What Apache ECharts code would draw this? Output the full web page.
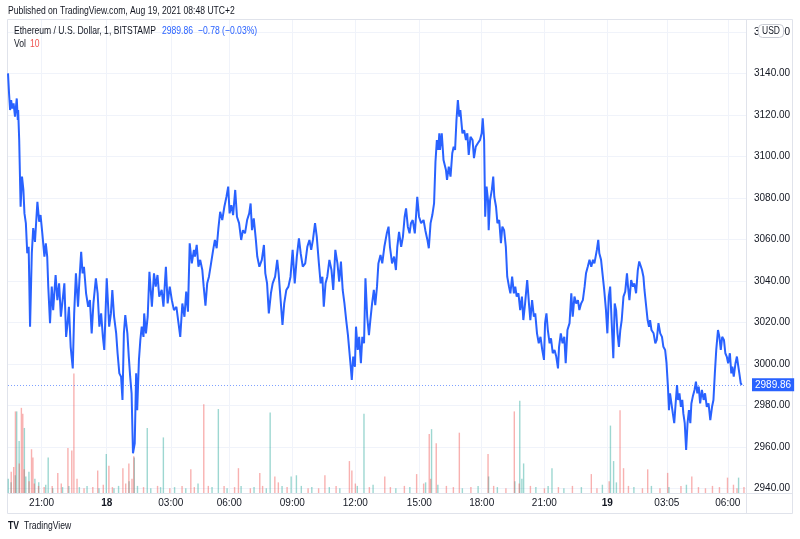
<!DOCTYPE html>
<html>
<head>
<meta charset="utf-8">
<script src="https://cdn.jsdelivr.net/npm/echarts@6/dist/echarts.min.js"></script>
<style>
html,body{margin:0;padding:0;background:#fff;}
#chart{width:800px;height:539px;}
</style>
</head>
<body>
<div id="chart"></div>
<script>
// ---- data (bar index = minute bar since chart start) ----
var barIdx = [0,3,6,9,12,16,20,25,28,29,32,36,40,44,47,51,55,59,63,68,72,77,84,89,93,98,104,108,112,115,120,125,129,136,141,146,151,156,161,166,171,174,179,185,189,194,200,204,209,213,217,223,229,234,239,244,251,256,261,266,271,275,282,289,294,298,303,309,313,318,323,327,331,335,341,345,349,353,357,362,366,369,374,378,382,387,389,394,399,404,411,417,422,427,432,439,444,451,456,462,468,474,481,487,492,498,504,509,514,519,525,531,534,539,544,549,555,559,564,569,574,580,586,591,596,601,606,612,618,624,629,633,638,643,649,654,660,666,671,677,683,689,693,697,702,708,712,718,725,731,735,740,745,751,756,763,769,773,778,784,789,795,801,807,813,819,825,831,836,842,849,855,861,866,871,877,882,888,893,898,902,907,912,918,924,929,935,941,946,951,956,961,966,971,975,979,982,986,991,994,999,1003,1008,1012,1017,1021,1026,1031,1035,1040,1045,1049,1054,1058,1064,1069,1075,1082,1087,1091,1097,1103,1108,1112,1117,1123,1128,1133,1137,1142,1147,1151,1156,1162,1166,1169,1174,1180,1187,1192,1198,1202,1207,1212,1217,1221,1225,1229,1232,1234,1239,1244,1251,1254,1259,1264,1269,1273,1277,1281,1285,1289,1292,1298,1303,1308,1312,1316,1321,1327,1331,1336,1342,1348,1353,1356,1360,1363,1367,1371,1373,1377,1382,1386,1389,1394,1398,1403,1408,1412,1417,1422,1426,1431,1435,1440,1445,1449,1453,1458,1463,1468,1472,1477,1483,1488,1492,1497,1502,1506,1511,1516,1521,1526,1531,1534,1538,1542,1547,1551,1556,1561,1566,1571,1574,1579,1584,1589,1593,1598,1604,1609,1613,1618,1623,1628,1632,1637,1642,1647,1651,1656,1661,1666,1671,1675,1682,1686,1689,1694,1699,1703,1708,1712,1716,1720,1724,1729,1733,1737,1741,1745,1749,1753,1758,1763,1768,1771,1775,1780,1785,1789,1794,1799,1803,1808,1811,1815,1818,1823,1827,1831,1834,1838,1844,1849,1853,1858,1863,1868,1872,1877,1881,1885,1888,1891,1895,1899,1903,1907,1911,1914,1918,1922,1926,1929,1933,1937,1941,1945,1949,1952,1956,1961,1965,1969,1973,1977,1982,1987,1991,1996,2001,2006,2011,2015,2019,2023,2028,2032,2036,2040,2045,2049,2053,2057,2062,2066,2069,2073,2078,2082,2086,2089,2093,2096];
var closePrice = [3140.0,3130.3,3122.3,3127.1,3123.1,3125.5,3119.1,3127.9,3117.5,3122.3,3107.8,3075.7,3090.2,3083.8,3072.5,3067.8,3053.3,3056.4,3017.9,3053.3,3065.4,3058.8,3078.1,3068.5,3071.7,3062.9,3051.7,3058.1,3051.7,3037.2,3019.6,3037.2,3025.9,3042.8,3030.7,3038.8,3022.7,3030.7,3038.8,3013.0,3021.1,3027.5,3008.2,2997.8,3024.3,3043.6,3027.5,3040.4,3054.0,3043.6,3046.8,3034.0,3027.5,3030.7,3014.7,3029.1,3041.2,3034.0,3017.9,3024.3,3013.0,3006.7,3041.2,3017.9,3024.3,3035.6,3022.7,3014.7,3005.1,2995.4,2993.8,2982.6,3014.7,3023.5,3014.7,3003.5,2993.8,2985.8,2956.9,2961.7,2995.4,2977.7,3001.9,3011.5,3017.9,3013.0,3024.3,3014.7,3022.7,3044.4,3027.5,3043.6,3037.2,3042.8,3032.4,3035.6,3027.5,3046.8,3029.1,3037.2,3030.7,3025.9,3027.5,3019.6,3013.0,3029.1,3022.7,3034.8,3025.1,3058.1,3048.4,3054.9,3051.7,3057.3,3046.8,3050.1,3045.2,3037.2,3028.0,3038.8,3042.0,3048.4,3054.9,3059.7,3055.7,3065.4,3073.3,3069.3,3075.7,3080.5,3085.4,3072.5,3076.5,3071.7,3083.8,3070.9,3067.8,3059.7,3064.4,3062.9,3069.3,3072.5,3077.3,3064.4,3070.1,3059.7,3051.7,3046.8,3050.1,3057.3,3043.6,3038.8,3024.3,3034.0,3038.8,3042.0,3050.1,3043.6,3032.4,3018.7,3029.1,3035.6,3037.2,3042.0,3054.9,3038.8,3051.7,3060.5,3053.3,3046.8,3048.4,3056.4,3059.7,3054.9,3059.7,3067.8,3061.2,3048.4,3038.8,3042.0,3027.5,3038.8,3042.0,3050.1,3045.2,3035.6,3054.9,3048.4,3039.6,3049.3,3035.6,3029.1,3021.1,3013.8,3013.0,2998.6,2992.2,3003.5,2998.6,3017.9,3006.7,3013.0,3000.3,3013.0,3009.9,3041.2,3022.7,3013.8,3021.1,3029.1,3035.6,3028.3,3037.2,3048.4,3052.5,3048.4,3056.4,3062.9,3066.1,3056.4,3048.4,3051.7,3045.2,3056.4,3063.6,3056.4,3061.2,3070.9,3074.9,3066.1,3062.9,3067.8,3069.3,3062.9,3072.5,3080.5,3070.9,3067.8,3069.3,3064.4,3059.7,3055.7,3067.8,3071.7,3077.3,3097.4,3107.8,3103.1,3111.1,3103.1,3111.1,3098.2,3093.4,3088.6,3095.0,3090.2,3101.5,3104.6,3103.1,3117.5,3127.1,3119.1,3122.3,3111.1,3112.6,3107.8,3111.1,3100.7,3109.4,3107.8,3099.1,3104.6,3106.3,3107.8,3111.1,3118.3,3107.8,3070.9,3085.4,3078.9,3064.4,3078.9,3083.8,3090.2,3080.5,3075.7,3067.8,3069.3,3058.1,3066.1,3064.4,3056.4,3042.0,3037.2,3034.0,3042.0,3034.0,3037.2,3032.4,3034.0,3025.9,3032.4,3021.1,3029.1,3040.4,3029.1,3021.1,3030.7,3022.7,3024.3,3014.7,3009.9,3013.0,3006.7,3001.9,3019.6,3024.3,3016.3,3009.9,3012.3,3005.1,3006.7,3003.5,2997.8,3008.2,3014.7,3009.9,3013.0,3000.3,3016.3,3019.6,3034.0,3022.7,3032.4,3029.1,3030.7,3025.9,3029.1,3030.7,3037.2,3043.6,3046.8,3050.1,3046.8,3050.1,3048.4,3054.9,3059.7,3053.3,3050.1,3042.0,3035.6,3025.9,3014.7,3032.4,3037.2,3021.1,3002.7,3029.1,3025.9,3014.7,3008.2,3016.3,3021.1,3032.4,3034.8,3043.6,3037.2,3030.7,3040.4,3037.2,3038.8,3034.0,3045.2,3049.3,3046.8,3045.2,3042.0,3035.6,3027.5,3021.1,3017.9,3021.1,3016.3,3014.7,3009.9,3011.5,3019.6,3014.7,3013.0,3008.2,3006.7,3000.3,2989.0,2977.7,2985.8,2980.9,2976.1,2971.4,2980.9,2989.8,2982.6,2985.8,2979.3,2982.6,2976.1,2971.4,2958.5,2971.4,2977.7,2971.4,2980.9,2984.2,2987.4,2991.4,2985.8,2989.0,2980.9,2987.4,2982.6,2985.8,2979.3,2980.9,2972.9,2979.3,2982.6,2995.4,3006.7,3016.3,3013.0,3006.7,3013.0,3011.5,3005.1,3003.5,3000.3,3005.1,2995.4,2998.6,2993.8,3000.3,3003.5,3004.3,2995.4,2990.6,2989.86];
var lastPrice = 2989.86;

var volIdx = [19,27,34,36,40,49,65,69,117,140,169,180,186,254,283,286,326,343,357,363,400,446,520,557,603,656,717,751,760,811,826,903,973,980,1019,1074,1165,1201,1212,1221,1287,1369,1444,1464,1475,1556,1664,1723,1732,1746,1756,1825,1882,1951,2053,2089,
  3,7,11,14,23,30,44,53,58,62,73,79,85,90,101,110,124,130,150,158,176,195,206,215,228,240,262,270,296,305,318,334,348,352,372,385,410,425,438,460,478,495,510,530,545,570,585,615,628,645,668,690,705,725,740,770,785,795,840,855,870,885,920,935,950,990,1000,1030,1045,1090,1110,1130,1150,1185,1195,1205,1230,1250,1270,1300,1320,1345,1375,1385,1400,1420,1450,1458,1470,1490,1510,1530,1545,1570,1590,1610,1640,1680,1700,1715,1740,1770,1790,1810,1840,1860,1890,1920,1940,1970,1990,2010,2030,2070,2080,2100];
var volValue = [69,69,44,72,67,55,37,30,30,17,38,36,101,19,33,23,21,25,31,30,55,47,20,75,71,21,17,68,14,14,15,15,27,19,67,14,16,50,54,42,51,33,69,78,25,21,16,57,27,70,21,20,17,14,13,13,
  12,18,9,22,15,25,20,14,10,18,8,12,6,9,5,7,6,4,8,5,6,12,5,4,6,5,4,7,5,4,6,8,10,12,6,5,4,6,5,4,5,6,4,5,8,6,5,6,4,5,6,4,5,6,4,9,6,5,6,4,5,4,5,6,4,8,6,5,7,5,4,6,5,8,9,12,7,6,5,4,5,6,14,6,5,4,10,8,12,6,5,4,6,5,4,6,5,4,7,10,9,6,5,4,6,4,5,6,7,5,4,6,5,7,4,5];
var volDir = ['d','u','u','d','d','u','d','d','u','d','d','d','d','d','u','d','d','d','d','u','u','u','d','d','u','d','d','u','d','u','u','d','d','d','u','d','d','d','u','d','d','d','d','u','u','u','d','u','u','d','d','d','d','d','d','u',
  'u','d','u','d','u','d','d','u','d','u','d','u','d','u','d','u','d','u','d','u','u','d','u','d','u','d','u','d','d','u','u','d','u','d','u','d','u','d','u','d','u','d','u','d','u','d','u','d','u','d','u','d','u','d','u','d','u','d','u','d','u','d','u','d','u','d','u','d','u','d','u','d','u','d','u','d','u','d','d','u','d','u','u','d','u','d','u','d','u','d','u','d','u','d','u','d','u','d','u','d','u','d','u','d','u','d','u','d','u','d'];

var priceTicks = [2940,2960,2980,3000,3020,3040,3060,3080,3100,3120,3140,3160];
var timeTickIdx = [96,282,465,632,812,992,1175,1353,1532,1712,1882,2056];
var timeTickLabels = ['21:00','18','03:00','06:00','09:00','12:00','15:00','18:00','21:00','19','03:05','06:00'];
var dayLabels = ['18','19'];

var FONT = '"Liberation Sans", Arial, sans-serif';
var SX = 0.78; // condensed look of the original UI font
var chart = echarts.init(document.getElementById('chart'), null, {renderer:'canvas'});

var lineData = barIdx.map(function(x,i){return [x, closePrice[i]];});
var upData = [], downData = [];
volIdx.forEach(function(x,i){
  if (volDir[i]==='u') upData.push([x, volValue[i]]); else downData.push([x, volValue[i]]);
});

function txt(x, y, s, fill, font, extra){
  var o = {type:'text', z:100, x:x, y:y, scaleX:SX, style:{text:s, fill:fill, font:font+' '+FONT, textVerticalAlign:'middle'}};
  if (extra) for (var k in extra) o.style[k]=extra[k];
  return o;
}

chart.setOption({
  animation:false,
  backgroundColor:'#ffffff',
  textStyle:{fontFamily:FONT},
  grid:{left:8, right:54, top:20, bottom:46, containLabel:false},
  xAxis:{
    type:'value', min:0, max:2108,
    axisLine:{show:false},
    axisTick:{show:false, customValues:timeTickIdx},
    splitLine:{show:true, lineStyle:{color:'#f0f3fa', width:1}},
    axisLabel:{
      customValues:timeTickIdx, margin:5, color:'#131722', fontSize:10, fontFamily:FONT,
      formatter:function(v){
        var i = timeTickIdx.indexOf(Math.round(v));
        var t = i>=0 ? timeTickLabels[i] : '';
        return dayLabels.indexOf(t)>=0 ? '{b|'+t+'}' : t;
      },
      rich:{b:{fontWeight:'bold', fontSize:10, color:'#131722', fontFamily:FONT}}
    }
  },
  yAxis:[{
    type:'value', position:'right', min:2937.75, max:3165.7, scale:true,
    axisLine:{show:false},
    axisTick:{show:false, customValues:priceTicks},
    splitLine:{show:true, lineStyle:{color:'#f0f3fa', width:1}},
    axisLabel:{customValues:priceTicks, margin:8, color:'#131722', fontSize:10, fontFamily:FONT,
      formatter:function(v){return Number(v).toFixed(2);}}
  },{
    type:'value', min:0, max:400, show:false, splitLine:{show:false}
  }],
  series:[
    {type:'bar', name:'volUp', xAxisIndex:0, yAxisIndex:1, data:upData, barWidth:1.4,
      itemStyle:{color:'rgba(38,166,154,0.45)'}, silent:true, z:1},
    {type:'bar', name:'volDown', xAxisIndex:0, yAxisIndex:1, data:downData, barWidth:1.4,
      itemStyle:{color:'rgba(239,83,80,0.45)'}, silent:true, z:1},
    {type:'line', name:'ETHUSD', data:lineData, showSymbol:false, symbol:'none',
      lineStyle:{color:'#2962FF', width:2}, z:5,
      markLine:{symbol:['none','none'], silent:true, animation:false,
        lineStyle:{color:'rgba(41,98,255,0.6)', type:[1,2], width:1},
        label:{show:true, position:'end', distance:6, formatter:function(){return lastPrice.toFixed(2);},
          color:'#ffffff', backgroundColor:'#2962FF', padding:[2,3,1,3], fontSize:10, fontFamily:FONT},
        emphasis:{disabled:true},
        data:[{yAxis:lastPrice}]}
    }
  ],
  graphic:[
    txt(8, 10.5, 'Published on TradingView.com, Aug 19, 2021 08:48 UTC+2', '#131722', '11px'),
    {type:'rect', z:0, shape:{x:7.5, y:19.5, width:785, height:494}, style:{fill:'none', stroke:'#e0e3eb', lineWidth:1}},
    {type:'line', z:50, shape:{x1:746.5, y1:20, x2:746.5, y2:513}, style:{stroke:'#e0e3eb', lineWidth:1}},
    {type:'line', z:50, shape:{x1:8, y1:493.5, x2:792, y2:493.5}, style:{stroke:'#e0e3eb', lineWidth:1}},
    {type:'rect', z:100, shape:{x:758.5, y:24.5, width:25, height:13, r:4}, style:{fill:'#ffffff', stroke:'#c9ccd4', lineWidth:1}},
    {type:'text', z:101, x:771, y:31, scaleX:0.85, style:{text:'USD', fill:'#131722', font:'10px '+FONT, textAlign:'center', textVerticalAlign:'middle'}},
    txt(14, 31, 'Ethereum / U.S. Dollar, 1, BITSTAMP', '#131722', '11px'),
    txt(162, 31, '2989.86', '#2962FF', '11px'),
    txt(198, 31, '\u22120.78 (\u22120.03%)', '#2962FF', '11px'),
    txt(14, 44, 'Vol', '#131722', '11px'),
    txt(30, 44, '10', '#ef5350', '11px'),
    txt(8, 526, 'TV', '#131722', 'bold 11px'),
    txt(24, 526, 'TradingView', '#131722', '11px')
  ]
});
</script>
</body>
</html>
